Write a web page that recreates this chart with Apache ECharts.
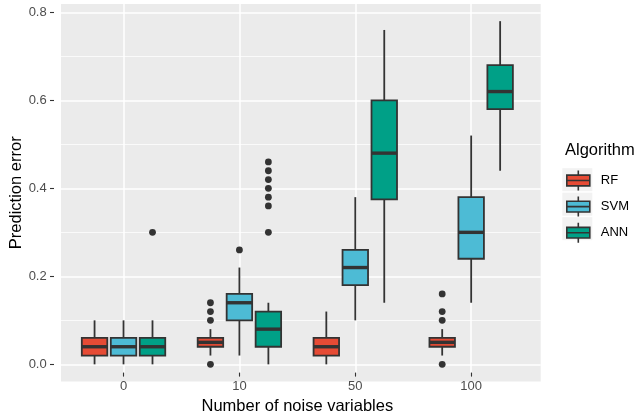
<!DOCTYPE html>
<html lang="en">
<head>
<meta charset="UTF-8">
<title>Prediction error by noise variables</title>
<script src="https://cdn.jsdelivr.net/npm/echarts@6/dist/echarts.min.js"></script>
<style>
  html, body { margin: 0; padding: 0; background: #fff; }
  #chart { width: 638px; height: 420px; }
</style>
</head>
<body>
<div id="chart"></div>
<script>
// noise levels on the x axis
var categories = ['0', '10', '50', '100'];
var algorithms = ['RF', 'SVM', 'ANN'];
var fills = ['#E64B35', '#4DBBD5', '#00A087'];
var yTicks = [0, 0.2, 0.4, 0.6, 0.8];

// box stats per noise level: [lower whisker, Q1, median, Q3, upper whisker]
var rfBox = [
  [0.00, 0.02, 0.04, 0.06, 0.10],
  [0.02, 0.04, 0.05, 0.06, 0.08],
  [0.00, 0.02, 0.04, 0.06, 0.12],
  [0.02, 0.04, 0.05, 0.06, 0.08]
];
var svmBox = [
  [0.00, 0.02, 0.04, 0.06, 0.10],
  [0.02, 0.10, 0.14, 0.16, 0.22],
  [0.10, 0.18, 0.22, 0.26, 0.38],
  [0.14, 0.24, 0.30, 0.38, 0.52]
];
var annBox = [
  [0.00, 0.02, 0.04, 0.06, 0.10],
  [0.00, 0.04, 0.08, 0.12, 0.14],
  [0.14, 0.375, 0.48, 0.60, 0.76],
  [0.44, 0.58, 0.62, 0.68, 0.78]
];

// outliers per noise level
var rfOut = [[], [0, 0.10, 0.12, 0.14], [], [0, 0.10, 0.12, 0.16]];
var svmOut = [[], [0.26], [], []];
var annOut = [[0.30], [0.30, 0.36, 0.38, 0.40, 0.42, 0.44, 0.46], [], []];

var boxes = [rfBox, svmBox, annBox];
var outs = [rfOut, svmOut, annOut];
var dodge = [-0.25, 0, 0.25];   // position inside a group, in category units
var boxWidth = 0.22;

var ink = '#333333';
var font = 'Liberation Sans, Arial, Helvetica, sans-serif';

// panel: x from -0.6 to 3.6, y from -0.039 to 0.819 (ggplot expansion)
var panel = { left: 54, top: 4, width: 486.7, height: 377.5 };
var yMin = -0.039, yMax = 0.819;
var pxPerY = panel.height / (yMax - yMin);
var pxPerX = panel.width / 4.2;

function renderBox(params, api) {
  var x = api.value(0);
  var lo = api.coord([x, api.value(1)]);
  var q1 = api.coord([x, api.value(2)]);
  var md = api.coord([x, api.value(3)]);
  var q3 = api.coord([x, api.value(4)]);
  var hi = api.coord([x, api.value(5)]);
  var half = api.size([boxWidth, 0])[0] / 2;
  var fill = api.visual('color');
  return {
    type: 'group',
    children: [
      { type: 'line', shape: { x1: lo[0], y1: lo[1], x2: q1[0], y2: q1[1] },
        style: { stroke: ink, lineWidth: 1.8 } },
      { type: 'line', shape: { x1: q3[0], y1: q3[1], x2: hi[0], y2: hi[1] },
        style: { stroke: ink, lineWidth: 1.8 } },
      { type: 'rect', shape: { x: q3[0] - half, y: q3[1], width: half * 2, height: q1[1] - q3[1] },
        style: { fill: fill, stroke: ink, lineWidth: 1.8 } },
      { type: 'line', shape: { x1: md[0] - half, y1: md[1], x2: md[0] + half, y2: md[1] },
        style: { stroke: ink, lineWidth: 3.4 } }
    ]
  };
}

var series = [];
algorithms.forEach(function (name, k) {
  var rows = boxes[k].map(function (b, i) {
    return [i + dodge[k]].concat(b);
  });
  series.push({
    name: name,
    type: 'custom',
    xAxisIndex: 1,
    yAxisIndex: 1,
    renderItem: renderBox,
    encode: { x: 0, y: [1, 2, 3, 4, 5] },
    itemStyle: { color: fills[k] },
    data: rows,
    z: 3
  });
  var pts = [];
  outs[k].forEach(function (vals, i) {
    vals.forEach(function (v) { pts.push([i + dodge[k], v]); });
  });
  series.push({
    name: name + ' outliers',
    type: 'scatter',
    xAxisIndex: 1,
    yAxisIndex: 1,
    symbolSize: 6.8,
    itemStyle: { color: ink, opacity: 1 },
    clip: false,
    data: pts,
    z: 4
  });
});

// keys of the legend: a small box-and-whisker glyph
var keyIcon = 'path://M11.5,0L11.5,4.65M0,4.65L23,4.65L23,15.35L0,15.35ZM0,10L23,10M11.5,15.35L11.5,20';
var legendTop = 169.7, legendStep = 24.5;

var keyBg = algorithms.map(function (a, k) {
  return {
    type: 'rect',
    shape: { x: 562.3, y: legendTop + 10 - 11.5 + k * legendStep, width: 30, height: 23 },
    style: { fill: '#F2F2F2' },
    z: -1
  };
});

var chart = echarts.init(document.getElementById('chart'), null, { renderer: 'canvas' });

chart.setOption({
  animation: false,
  backgroundColor: '#ffffff',
  textStyle: { fontFamily: font },
  title: {
    text: 'Algorithm',
    left: 565,
    top: 142.3,
    padding: 0,
    textStyle: { fontSize: 16.5, fontWeight: 'normal', color: '#000', fontFamily: font }
  },
  legend: {
    orient: 'vertical',
    left: 566,
    top: legendTop,
    padding: 0,
    itemWidth: 23,
    itemHeight: 20,
    itemGap: legendStep - 20,
    selectedMode: false,
    textStyle: { fontSize: 13, color: '#000', fontFamily: font, padding: [0, 0, 0, 6] },
    data: algorithms.map(function (a, k) {
      return {
        name: a,
        icon: keyIcon,
        itemStyle: { color: fills[k], borderColor: ink, borderWidth: 1.6 }
      };
    })
  },
  graphic: keyBg,
  grid: [
    // 0: grey panel
    { left: panel.left, top: panel.top, width: panel.width, height: panel.height,
      show: true, backgroundColor: '#EBEBEB', borderWidth: 0 },
    // 1: data, y from 0 to 0.8
    { left: panel.left, top: panel.top + (yMax - 0.8) * pxPerY, width: panel.width,
      height: 0.8 * pxPerY },
    // 2: category axis from the first to the last group centre
    { left: panel.left + 0.6 * pxPerX, top: panel.top, width: 3 * pxPerX, height: panel.height }
  ],
  xAxis: [
    { gridIndex: 0, type: 'value', min: 0, max: 1, show: false },
    { gridIndex: 1, type: 'value', min: -0.6, max: 3.6, show: false,
      axisLine: { onZero: false } },
    {
      gridIndex: 2,
      type: 'category',
      data: categories,
      boundaryGap: false,
      name: 'Number of noise variables',
      nameLocation: 'middle',
      nameGap: 24,
      nameTextStyle: { fontSize: 16.5, color: '#000', fontFamily: font },
      axisLine: { show: false, onZero: false },
      axisTick: { show: true, length: 4, lineStyle: { color: ink, width: 1.1 } },
      axisLabel: { color: '#4D4D4D', fontSize: 13, margin: 7.5, fontFamily: font },
      splitLine: { show: true, lineStyle: { color: '#ffffff', width: 1.5 } }
    }
  ],
  yAxis: [
    {
      gridIndex: 0,
      type: 'value',
      min: 0,
      max: 1,
      name: 'Prediction error',
      nameLocation: 'middle',
      nameGap: 36,
      nameTextStyle: { fontSize: 16.5, color: '#000', fontFamily: font },
      axisLine: { show: false, onZero: false },
      axisTick: { show: false },
      axisLabel: { show: false },
      splitLine: { show: false }
    },
    {
      gridIndex: 1,
      type: 'value',
      position: 'left',
      min: yTicks[0],
      max: yTicks[yTicks.length - 1],
      interval: 0.2,
      axisLine: { show: false, onZero: false },
      axisTick: { show: true, length: 4, lineStyle: { color: ink, width: 1.1 } },
      axisLabel: {
        color: '#4D4D4D', fontSize: 13, margin: 7.3, fontFamily: font,
        formatter: function (v) { return v.toFixed(1); }
      },
      splitLine: { show: true, lineStyle: { color: '#ffffff', width: 1.5 } },
      minorTick: { show: false, splitNumber: 2 },
      minorSplitLine: { show: true, lineStyle: { color: '#ffffff', width: 0.75 } }
    },
    { gridIndex: 2, type: 'value', min: 0, max: 1, show: false }
  ],
  series: series
});
</script>
</body>
</html>
